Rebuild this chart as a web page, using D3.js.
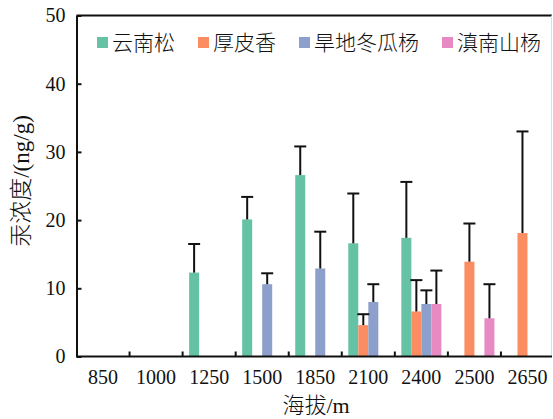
<!DOCTYPE html>
<html>
<head>
<meta charset="utf-8">
<script src="https://cdn.jsdelivr.net/npm/d3@7"></script>
<style>
  body { margin: 0; background: #fff; }
  svg { display: block; }
  text { font-family: "Liberation Serif", "Noto Sans CJK SC", serif; fill: #111; }
</style>
</head>
<body>
<svg id="chart" width="553" height="419"></svg>
<script>
// 海拔分组
const altitudes = ["850", "1000", "1250", "1500", "1850", "2100", "2400", "2500", "2650"];
const species = ["云南松", "厚皮香", "旱地冬瓜杨", "滇南山杨"];
const colors = ["#66c2a5", "#fc8d62", "#8da0cb", "#e78ac3"];

// 平均值 (null = 无样本)
const yunnanPine = [null, null, 12.3, 20.1, 26.6, 16.6, 17.4, null, null];
const houpixiang = [null, null, null, null, null, 4.6, 6.6, 13.9, 18.1];
const handiPoplar = [null, null, null, 10.6, 12.9, 8.0, 7.7, null, null];
const diannanPoplar = [null, null, null, null, null, null, 7.7, 5.6, null];

// 标准差 (只画上侧)
const yunnanPineErr = [null, null, 4.2, 3.3, 4.2, 7.3, 8.2, null, null];
const houpixiangErr = [null, null, null, null, null, 1.6, 4.6, 5.6, 14.9];
const handiPoplarErr = [null, null, null, 1.6, 5.4, 2.6, 2.0, null, null];
const diannanPoplarErr = [null, null, null, null, null, null, 4.9, 5.0, null];

const yTicks = [0, 10, 20, 30, 40, 50];

const means = [yunnanPine, houpixiang, handiPoplar, diannanPoplar];
const errs = [yunnanPineErr, houpixiangErr, handiPoplarErr, diannanPoplarErr];

const bars = [];
species.forEach((s, si) => {
  altitudes.forEach((a, ai) => {
    if (means[si][ai] != null) {
      bars.push({ alt: a, sp: s, si: si, v: means[si][ai], e: errs[si][ai] });
    }
  });
});

const svg = d3.select("#chart");
const plotL = 76.5, plotR = 554, plotT = 15.5, plotB = 356.5;

const x0 = d3.scaleBand().domain(altitudes).range([plotL, plotR]).padding(0);
const x1 = d3
  .scaleBand()
  .domain(species)
  .range([0, x0.bandwidth()])
  .paddingInner(0)
  .paddingOuter(0.65);
const y = d3.scaleLinear().domain([0, 50]).range([plotB, plotT]);

// 柱
svg
  .append("g")
  .selectAll("rect")
  .data(bars)
  .enter()
  .append("rect")
  .attr("x", (d) => x0(d.alt) + x1(d.sp))
  .attr("y", (d) => y(d.v))
  .attr("width", x1.bandwidth())
  .attr("height", (d) => y(0) - y(d.v))
  .attr("fill", (d) => colors[d.si]);

// 误差线
const eb = svg.append("g").attr("stroke", "#111").attr("stroke-width", 2);
bars.forEach((d) => {
  const cx = x0(d.alt) + x1(d.sp) + x1.bandwidth() / 2;
  eb.append("line")
    .attr("x1", cx)
    .attr("x2", cx)
    .attr("y1", y(d.v))
    .attr("y2", y(d.v + d.e));
  eb.append("line")
    .attr("x1", cx - 6)
    .attr("x2", cx + 6)
    .attr("y1", y(d.v + d.e))
    .attr("y2", y(d.v + d.e));
});

// 边框 (上 + 右)
svg
  .append("line")
  .attr("x1", plotL)
  .attr("x2", 552)
  .attr("y1", plotT)
  .attr("y2", plotT)
  .attr("stroke", "#111")
  .attr("stroke-width", 2);
svg
  .append("line")
  .attr("x1", 551.5)
  .attr("x2", 551.5)
  .attr("y1", plotT)
  .attr("y2", plotB)
  .attr("stroke", "#ddd")
  .attr("stroke-width", 1);

// y 轴
const yAxis = svg
  .append("g")
  .attr("transform", `translate(${plotL},0)`)
  .call(
    d3
      .axisLeft(y)
      .tickValues(yTicks)
      .tickSizeInner(-5)
      .tickSizeOuter(0)
      .tickPadding(11)
  );
yAxis.select(".domain").attr("stroke", "#111").attr("stroke-width", 2);
yAxis.selectAll(".tick line").attr("stroke", "#111").attr("stroke-width", 2);
yAxis
  .selectAll(".tick text")
  .attr("font-size", 20)
  .attr("font-family", "Liberation Serif")
  .attr("fill", "#111");

// x 轴
const xAxis = svg
  .append("g")
  .attr("transform", `translate(0,${plotB})`)
  .call(d3.axisBottom(x0).tickSize(0).tickSizeOuter(0).tickPadding(13));
xAxis
  .select(".domain")
  .attr("stroke", "#111")
  .attr("stroke-width", 2)
  .attr("d", `M${plotL},0H552`);
xAxis
  .selectAll(".tick text")
  .attr("font-size", 20)
  .attr("font-family", "Liberation Serif")
  .attr("fill", "#111");

// 分组间刻度 (向内)
svg
  .append("g")
  .selectAll("line")
  .data(altitudes.slice(1))
  .enter()
  .append("line")
  .attr("x1", (d) => x0(d))
  .attr("x2", (d) => x0(d))
  .attr("y1", plotB)
  .attr("y2", plotB - 5)
  .attr("stroke", "#111")
  .attr("stroke-width", 2);

// 轴标题
svg
  .append("text")
  .attr("x", 316)
  .attr("y", 413)
  .attr("text-anchor", "middle")
  .attr("font-size", 22)
  .attr("font-weight", 300)
  .text("海拔/m");

svg
  .append("text")
  .attr("transform", "translate(29,181) rotate(-90)")
  .attr("text-anchor", "middle")
  .attr("font-size", 23)
  .attr("font-weight", 300)
  .text("汞浓度/(ng/g)");

// 图例
const legend = svg.append("g");
let lx = 97;
species.forEach((s, i) => {
  legend
    .append("rect")
    .attr("x", lx)
    .attr("y", 37)
    .attr("width", 11)
    .attr("height", 11)
    .attr("fill", colors[i]);
  const t = legend
    .append("text")
    .attr("x", lx + 15)
    .attr("y", 49.5)
    .attr("font-size", 21)
    .attr("font-weight", 300)
    .attr("font-family", "Noto Sans CJK SC")
    .text(s);
  lx += 15 + t.node().getComputedTextLength() + 23;
});
</script>
</body>
</html>
